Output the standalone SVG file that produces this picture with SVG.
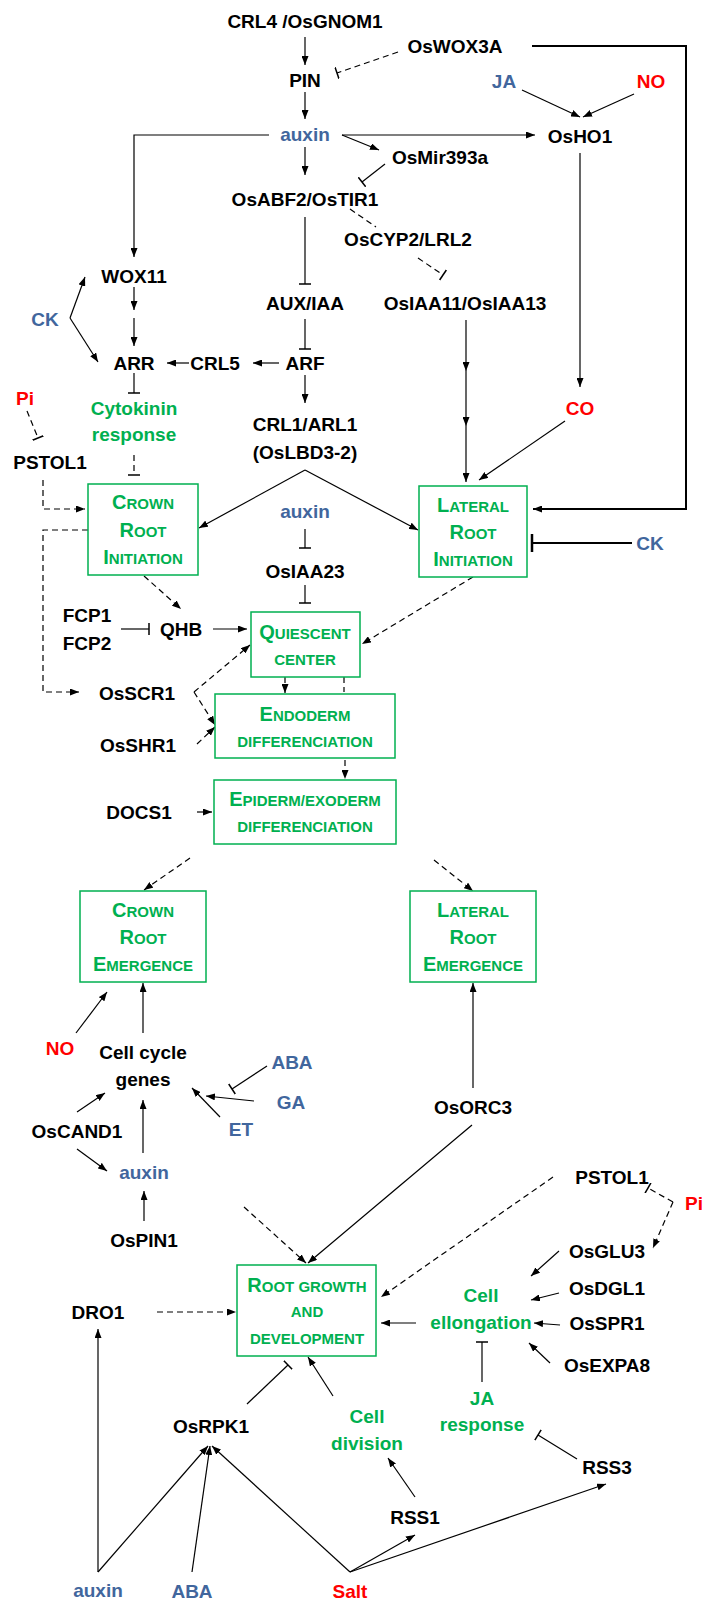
<svg xmlns="http://www.w3.org/2000/svg" width="705" height="1607" viewBox="0 0 705 1607">
<style>
text{font-family:"Liberation Sans",Arial,sans-serif;font-weight:bold;font-size:19px;text-anchor:middle}
.k{fill:#000}.b{fill:#41669d}.r{fill:#ff0000}.g{fill:#00b050}
.sm{font-size:15px}.cap{font-size:20px}
.box{fill:#fff;stroke:#00b050;stroke-width:1.5}
#connectors line,#connectors polyline{stroke:#000;stroke-width:1.2;fill:none}
#connectors .d{stroke-dasharray:6 4}
#connectors .thick{stroke-width:2}
.a{marker-end:url(#ah)}.t{marker-end:url(#tb)}
</style>
<defs>
<marker id="ah" markerUnits="userSpaceOnUse" markerWidth="9" markerHeight="7" viewBox="0 0 9 7" refX="9" refY="3.5" orient="auto"><path d="M0,0 L9,3.5 L0,7 z" fill="#000"/></marker>
<marker id="tb" markerUnits="userSpaceOnUse" markerWidth="3" markerHeight="12" viewBox="-1.5 -6 3 12" refX="0" refY="0" orient="auto"><path d="M0,-6 V6" stroke="#000" stroke-width="1.5"/></marker>
<marker id="tb2" markerUnits="userSpaceOnUse" markerWidth="4" markerHeight="18" viewBox="-2 -9 4 18" refX="0" refY="0" orient="auto"><path d="M0,-9 V9" stroke="#000" stroke-width="2.5"/></marker>
</defs>
<rect width="705" height="1607" fill="#fff"/>
<g id="connectors">
<line class="a" x1="305" y1="37" x2="305" y2="65"/>
<line class="a" x1="305" y1="92" x2="305" y2="119"/>
<line class="a" x1="522" y1="90" x2="580" y2="117"/>
<line class="a" x1="634" y1="94" x2="583" y2="117"/>
<line class="a" x1="342" y1="135" x2="535" y2="135"/>
<polyline class="a" points="269,135 134,135 134,257"/>
<line class="a" x1="342" y1="135" x2="379" y2="150"/>
<line class="a" x1="305" y1="147" x2="305" y2="175"/>
<line class="a" x1="580" y1="153" x2="580" y2="387"/>
<polyline class="a thick" points="532,46 686,46 686,509 533,509"/>
<line class="a" x1="70" y1="318" x2="85" y2="277"/>
<line class="a" x1="70" y1="318" x2="98" y2="362"/>
<line class="a" x1="134" y1="287" x2="134" y2="310"/>
<line class="a" x1="134" y1="318" x2="134" y2="346"/>
<line class="a" x1="189" y1="363" x2="167" y2="363"/>
<line class="a" x1="279" y1="363" x2="253" y2="363"/>
<line class="a" x1="305" y1="375" x2="305" y2="403"/>
<line class="a" x1="466" y1="320" x2="466" y2="371"/>
<line class="a" x1="466" y1="371" x2="466" y2="426"/>
<line class="a" x1="466" y1="426" x2="466" y2="482"/>
<line class="a" x1="565" y1="421" x2="479" y2="480"/>
<line class="a" x1="305" y1="470" x2="199" y2="528"/>
<line class="a" x1="305" y1="470" x2="418" y2="530"/>
<line class="a" x1="213" y1="629" x2="247" y2="629"/>
<line class="a" x1="197" y1="812" x2="212" y2="812"/>
<line class="a" x1="76" y1="1033" x2="107" y2="992"/>
<line class="a" x1="143" y1="1033" x2="143" y2="983"/>
<line class="a" x1="254" y1="1101" x2="206" y2="1096"/>
<line class="a" x1="220" y1="1117" x2="192" y2="1088"/>
<line class="a" x1="77" y1="1112" x2="105" y2="1093"/>
<line class="a" x1="143" y1="1153" x2="143" y2="1100"/>
<line class="a" x1="473" y1="1088" x2="473" y2="983"/>
<line class="a" x1="472" y1="1125" x2="308" y2="1263"/>
<line class="a" x1="77" y1="1149" x2="107" y2="1171"/>
<line class="a" x1="144" y1="1221" x2="144" y2="1191"/>
<line class="a" x1="559" y1="1251" x2="531" y2="1276"/>
<line class="a" x1="559" y1="1293" x2="531" y2="1300"/>
<line class="a" x1="560" y1="1325" x2="534" y2="1323"/>
<line class="a" x1="550" y1="1363" x2="529" y2="1343"/>
<line class="a" x1="416" y1="1323" x2="381" y2="1323"/>
<line class="a" x1="98" y1="1572" x2="98" y2="1329"/>
<line class="a" x1="333" y1="1396" x2="308" y2="1357"/>
<line class="a" x1="415" y1="1497" x2="388" y2="1458"/>
<line class="a" x1="350" y1="1572" x2="415" y2="1535"/>
<line class="a" x1="350" y1="1572" x2="606" y2="1484"/>
<line class="a" x1="350" y1="1572" x2="212" y2="1446"/>
<line class="a" x1="192" y1="1572" x2="210" y2="1446"/>
<line class="a" x1="98" y1="1572" x2="208" y2="1446"/>
<line class="t" x1="385" y1="164" x2="362" y2="182"/>
<line class="t" x1="305" y1="217" x2="305" y2="284"/>
<line class="t" x1="305" y1="319" x2="305" y2="349"/>
<line class="t" x1="134" y1="373" x2="134" y2="393"/>
<line class="t" x1="305" y1="529" x2="305" y2="548"/>
<line class="t" x1="305" y1="585" x2="305" y2="603"/>
<line class="thick" x1="632" y1="543" x2="532" y2="543" marker-end="url(#tb2)"/>
<line class="t" x1="121" y1="629" x2="149" y2="629"/>
<line class="t" x1="267" y1="1066" x2="232" y2="1089"/>
<line class="t" x1="482" y1="1382" x2="482" y2="1342"/>
<line class="t" x1="247" y1="1404" x2="288" y2="1365"/>
<line class="t" x1="577" y1="1459" x2="538" y2="1435"/>
<line class="d t" x1="398" y1="52" x2="337" y2="73"/>
<line class="d" x1="350" y1="209" x2="376" y2="227"/>
<line class="d t" x1="418" y1="258" x2="443" y2="275"/>
<line class="d t" x1="27" y1="411" x2="38" y2="438"/>
<line class="d t" x1="134" y1="455" x2="134" y2="475"/>
<line class="d t" x1="673" y1="1202" x2="648" y2="1188"/>
<polyline class="d a" points="43,480 43,509 85,509"/>
<polyline class="d a" points="88,530 43,530 43,692 79,692"/>
<line class="d a" x1="144" y1="576" x2="181" y2="609"/>
<line class="d a" x1="473" y1="577" x2="362" y2="644"/>
<line class="d a" x1="194" y1="692" x2="250" y2="645"/>
<line class="d a" x1="194" y1="692" x2="215" y2="725"/>
<line class="d a" x1="197" y1="744" x2="215" y2="727"/>
<line class="d a" x1="285" y1="677" x2="285" y2="693"/>
<line class="d" x1="344" y1="677" x2="344" y2="692"/>
<line class="d a" x1="345" y1="760" x2="345" y2="779"/>
<line class="d a" x1="190" y1="858" x2="144" y2="890"/>
<line class="d a" x1="434" y1="860" x2="473" y2="891"/>
<line class="d a" x1="244" y1="1207" x2="306" y2="1263"/>
<line class="d a" x1="553" y1="1177" x2="381" y2="1297"/>
<line class="d a" x1="673" y1="1202" x2="653" y2="1248"/>
<line class="d a" x1="157" y1="1312" x2="236" y2="1312"/>
</g>
<g id="crl4"><text class="k" x="305" y="28">CRL4 /OsGNOM1</text></g>
<g id="oswox3a"><text class="k" x="455" y="53">OsWOX3A</text></g>
<g id="pin"><text class="k" x="305" y="87">PIN</text></g>
<g id="ja1"><text class="b" x="504" y="88">JA</text></g>
<g id="no1"><text class="r" x="651" y="88">NO</text></g>
<g id="auxin1"><text class="b" x="305" y="141">auxin</text></g>
<g id="osho1"><text class="k" x="580" y="143">OsHO1</text></g>
<g id="osmir393a"><text class="k" x="440" y="164">OsMir393a</text></g>
<g id="osabf2"><text class="k" x="305" y="206">OsABF2/OsTIR1</text></g>
<g id="oscyp2"><text class="k" x="408" y="246">OsCYP2/LRL2</text></g>
<g id="wox11"><text class="k" x="134" y="283">WOX11</text></g>
<g id="auxiaa"><text class="k" x="305" y="310">AUX/IAA</text></g>
<g id="osiaa11"><text class="k" x="465" y="310">OsIAA11/OsIAA13</text></g>
<g id="ck1"><text class="b" x="45" y="326">CK</text></g>
<g id="arr"><text class="k" x="134" y="370">ARR</text></g>
<g id="crl5"><text class="k" x="215" y="370">CRL5</text></g>
<g id="arf"><text class="k" x="305" y="370">ARF</text></g>
<g id="pi1"><text class="r" x="25" y="405">Pi</text></g>
<g id="cytokinin"><text class="g" x="134" y="415">Cytokinin</text><text class="g" x="134" y="441">response</text></g>
<g id="co"><text class="r" x="580" y="415">CO</text></g>
<g id="crl1"><text class="k" x="305" y="431">CRL1/ARL1</text><text class="k" x="305" y="459">(OsLBD3-2)</text></g>
<g id="pstol1a"><text class="k" x="50" y="469">PSTOL1</text></g>
<g id="cri"><rect class="box" x="88" y="484" width="110" height="91"/>
<text class="g sm" x="143" y="509"><tspan class="cap">C</tspan>ROWN</text>
<text class="g sm" x="143" y="537"><tspan class="cap">R</tspan>OOT</text>
<text class="g sm" x="143" y="564"><tspan class="cap">I</tspan>NITIATION</text></g>
<g id="auxin2"><text class="b" x="305" y="518">auxin</text></g>
<g id="lri"><rect class="box" x="419" y="486" width="108" height="91"/>
<text class="g sm" x="473" y="512"><tspan class="cap">L</tspan>ATERAL</text>
<text class="g sm" x="473" y="539"><tspan class="cap">R</tspan>OOT</text>
<text class="g sm" x="473" y="566"><tspan class="cap">I</tspan>NITIATION</text></g>
<g id="ck2"><text class="b" x="650" y="550">CK</text></g>
<g id="osiaa23"><text class="k" x="305" y="578">OsIAA23</text></g>
<g id="fcp"><text class="k" x="87" y="622">FCP1</text><text class="k" x="87" y="650">FCP2</text></g>
<g id="qhb"><text class="k" x="181" y="636">QHB</text></g>
<g id="qc"><rect class="box" x="251" y="612" width="109" height="65"/>
<text class="g sm" x="305" y="639"><tspan class="cap">Q</tspan>UIESCENT</text>
<text class="g sm" x="305" y="665">CENTER</text></g>
<g id="osscr1"><text class="k" x="137" y="700">OsSCR1</text></g>
<g id="endo"><rect class="box" x="215" y="694" width="180" height="64"/>
<text class="g sm" x="305" y="721"><tspan class="cap">E</tspan>NDODERM</text>
<text class="g sm" x="305" y="747">DIFFERENCIATION</text></g>
<g id="osshr1"><text class="k" x="138" y="752">OsSHR1</text></g>
<g id="epi"><rect class="box" x="214" y="780" width="182" height="64"/>
<text class="g sm" x="305" y="806"><tspan class="cap">E</tspan>PIDERM/EXODERM</text>
<text class="g sm" x="305" y="832">DIFFERENCIATION</text></g>
<g id="docs1"><text class="k" x="139" y="819">DOCS1</text></g>
<g id="cre"><rect class="box" x="80" y="891" width="126" height="91"/>
<text class="g sm" x="143" y="917"><tspan class="cap">C</tspan>ROWN</text>
<text class="g sm" x="143" y="944"><tspan class="cap">R</tspan>OOT</text>
<text class="g sm" x="143" y="971"><tspan class="cap">E</tspan>MERGENCE</text></g>
<g id="lre"><rect class="box" x="410" y="891" width="126" height="91"/>
<text class="g sm" x="473" y="917"><tspan class="cap">L</tspan>ATERAL</text>
<text class="g sm" x="473" y="944"><tspan class="cap">R</tspan>OOT</text>
<text class="g sm" x="473" y="971"><tspan class="cap">E</tspan>MERGENCE</text></g>
<g id="no2"><text class="r" x="60" y="1055">NO</text></g>
<g id="cellcycle"><text class="k" x="143" y="1059">Cell cycle</text><text class="k" x="143" y="1086">genes</text></g>
<g id="aba1"><text class="b" x="292" y="1069">ABA</text></g>
<g id="ga"><text class="b" x="291" y="1109">GA</text></g>
<g id="et"><text class="b" x="241" y="1136">ET</text></g>
<g id="oscand1"><text class="k" x="77" y="1138">OsCAND1</text></g>
<g id="osorc3"><text class="k" x="473" y="1114">OsORC3</text></g>
<g id="auxin3"><text class="b" x="144" y="1179">auxin</text></g>
<g id="pstol1b"><text class="k" x="612" y="1184">PSTOL1</text></g>
<g id="pi2"><text class="r" x="694" y="1210">Pi</text></g>
<g id="ospin1"><text class="k" x="144" y="1247">OsPIN1</text></g>
<g id="osglu3"><text class="k" x="607" y="1258">OsGLU3</text></g>
<g id="rgd"><rect class="box" x="237" y="1265" width="139" height="91"/>
<text class="g sm" x="307" y="1292"><tspan class="cap">R</tspan>OOT GROWTH</text>
<text class="g sm" x="307" y="1317">AND</text>
<text class="g sm" x="307" y="1344">DEVELOPMENT</text></g>
<g id="osdgl1"><text class="k" x="607" y="1295">OsDGL1</text></g>
<g id="cellelong"><text class="g" x="481" y="1302">Cell</text><text class="g" x="481" y="1329">ellongation</text></g>
<g id="dro1"><text class="k" x="98" y="1319">DRO1</text></g>
<g id="osspr1"><text class="k" x="607" y="1330">OsSPR1</text></g>
<g id="osexpa8"><text class="k" x="607" y="1372">OsEXPA8</text></g>
<g id="jaresp"><text class="g" x="482" y="1405">JA</text><text class="g" x="482" y="1431">response</text></g>
<g id="celldiv"><text class="g" x="367" y="1423">Cell</text><text class="g" x="367" y="1450">division</text></g>
<g id="osrpk1"><text class="k" x="211" y="1433">OsRPK1</text></g>
<g id="rss3"><text class="k" x="607" y="1474">RSS3</text></g>
<g id="rss1"><text class="k" x="415" y="1524">RSS1</text></g>
<g id="auxin4"><text class="b" x="98" y="1597">auxin</text></g>
<g id="aba2"><text class="b" x="192" y="1598">ABA</text></g>
<g id="salt"><text class="r" x="350" y="1598">Salt</text></g>
</svg>
